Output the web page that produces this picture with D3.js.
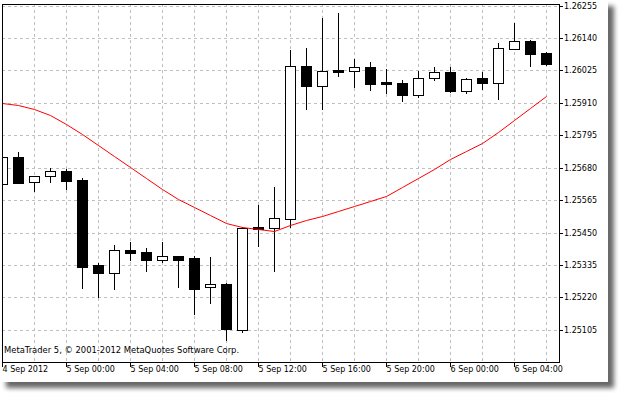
<!DOCTYPE html>
<html>
<head>
<meta charset="utf-8">
<script src="https://cdn.jsdelivr.net/npm/d3@7"></script>
<style>
  body { margin: 0; background: #fff; }
  text { font-family: "DejaVu Sans", sans-serif; font-size: 8px; fill: #000; }
</style>
</head>
<body>
<div id="chart"></div>
<script>
// hourly EURUSD-style bars, 4 Sep 20:00 .. 6 Sep 06:00
var times = [
  "2012-09-04 20:00", "2012-09-04 21:00", "2012-09-04 22:00", "2012-09-04 23:00",
  "2012-09-05 00:00", "2012-09-05 01:00", "2012-09-05 02:00", "2012-09-05 03:00",
  "2012-09-05 04:00", "2012-09-05 05:00", "2012-09-05 06:00", "2012-09-05 07:00",
  "2012-09-05 08:00", "2012-09-05 09:00", "2012-09-05 10:00", "2012-09-05 11:00",
  "2012-09-05 12:00", "2012-09-05 13:00", "2012-09-05 14:00", "2012-09-05 15:00",
  "2012-09-05 16:00", "2012-09-05 17:00", "2012-09-05 18:00", "2012-09-05 19:00",
  "2012-09-05 20:00", "2012-09-05 21:00", "2012-09-05 22:00", "2012-09-05 23:00",
  "2012-09-06 00:00", "2012-09-06 01:00", "2012-09-06 02:00", "2012-09-06 03:00",
  "2012-09-06 04:00", "2012-09-06 05:00", "2012-09-06 06:00"
];

var opens = [
  1.25621, 1.25718, 1.25628, 1.25650, 1.25667, 1.25636, 1.25334, 1.25307,
  1.25388, 1.25381, 1.25354, 1.25367, 1.25360, 1.25256, 1.25267, 1.25105,
  1.25468, 1.25467, 1.25499, 1.26041, 1.25969, 1.26026, 1.26022, 1.26037,
  1.25984, 1.25980, 1.25937, 1.25997, 1.26020, 1.25951, 1.25998, 1.25980,
  1.26102, 1.26129, 1.26088
];
var highs = [
  1.25717, 1.25739, 1.25654, 1.25681, 1.25678, 1.25646, 1.25345, 1.25409,
  1.25420, 1.25399, 1.25420, 1.25367, 1.25370, 1.25367, 1.25273, 1.25472,
  1.25551, 1.25615, 1.26101, 1.26108, 1.26215, 1.26233, 1.26070, 1.26059,
  1.26035, 1.25995, 1.26027, 1.26042, 1.26040, 1.26002, 1.26022, 1.26126,
  1.26198, 1.26137, 1.26094
];
var lows = [
  1.25621, 1.25627, 1.25598, 1.25630, 1.25604, 1.25254, 1.25221, 1.25251,
  1.25354, 1.25314, 1.25346, 1.25257, 1.25161, 1.25201, 1.25068, 1.25098,
  1.25402, 1.25313, 1.25471, 1.25887, 1.25887, 1.26007, 1.25968, 1.25957,
  1.25946, 1.25918, 1.25930, 1.25990, 1.25950, 1.25944, 1.25960, 1.25925,
  1.26102, 1.26042, 1.26043
];
var closes = [
  1.25717, 1.25627, 1.25650, 1.25667, 1.25634, 1.25329, 1.25307, 1.25388,
  1.25378, 1.25354, 1.25366, 1.25354, 1.25251, 1.25266, 1.25109, 1.25466,
  1.25462, 1.25500, 1.26040, 1.25971, 1.26022, 1.26021, 1.26036, 1.25978,
  1.25978, 1.25939, 1.25998, 1.26019, 1.25953, 1.25994, 1.25980, 1.26104,
  1.26129, 1.26085, 1.26049
];
// moving average (red)
var maValues = [
  1.25911, 1.25903, 1.25888, 1.25867, 1.25835, 1.25801, 1.25762, 1.25723,
  1.25682, 1.25642, 1.25604, 1.25569, 1.25540, 1.25512, 1.25484, 1.25469,
  1.25464, 1.25455, 1.25475, 1.25494, 1.25509, 1.25526, 1.25544, 1.25562,
  1.25580, 1.25610, 1.25642, 1.25677, 1.25710, 1.25739, 1.25769, 1.25807,
  1.25849, 1.25892, 1.25935
];

var yTicks = [1.26255, 1.26140, 1.26025, 1.25910, 1.25795, 1.25680,
              1.25565, 1.25450, 1.25335, 1.25220, 1.25105];
var xTickTimes = ["2012-09-04 20:00", "2012-09-05 00:00", "2012-09-05 04:00",
                  "2012-09-05 08:00", "2012-09-05 12:00", "2012-09-05 16:00",
                  "2012-09-05 20:00", "2012-09-06 00:00", "2012-09-06 04:00"];
var xTickLabels = ["4 Sep 2012", "5 Sep 00:00", "5 Sep 04:00", "5 Sep 08:00",
                   "5 Sep 12:00", "5 Sep 16:00", "5 Sep 20:00", "6 Sep 00:00",
                   "6 Sep 04:00"];
var copyright = "MetaTrader 5, \u00a9 2001-2012 MetaQuotes Software Corp.";

var svgWidth = 623;
var svgHeight = 393;

var plot = { left: 2, top: 4, right: 559, bottom: 362 };

var parseTime = d3.timeParse("%Y-%m-%d %H:%M");

var bars = times.map(function(t, i) {
  return {
    time: parseTime(t),
    open: opens[i],
    high: highs[i],
    low: lows[i],
    close: closes[i],
    ma: maValues[i]
  };
});

var svg = d3.select("#chart")
  .append("svg")
  .attr("width", svgWidth)
  .attr("height", svgHeight);

var defs = svg.append("defs");

var shadow = defs.append("filter")
  .attr("id", "shadow")
  .attr("x", "-5%")
  .attr("y", "-5%")
  .attr("width", "110%")
  .attr("height", "110%");
shadow.append("feGaussianBlur")
  .attr("in", "SourceAlpha")
  .attr("stdDeviation", 2.5)
  .attr("result", "blur");
shadow.append("feOffset")
  .attr("in", "blur")
  .attr("dx", 6)
  .attr("dy", 6)
  .attr("result", "off");
shadow.append("feComponentTransfer")
  .attr("in", "off")
  .attr("result", "soft")
  .append("feFuncA")
  .attr("type", "linear")
  .attr("slope", 0.6);
var merge = shadow.append("feMerge");
merge.append("feMergeNode").attr("in", "soft");
merge.append("feMergeNode").attr("in", "SourceGraphic");

defs.append("clipPath")
  .attr("id", "plotClip")
  .append("rect")
  .attr("x", plot.left + 1)
  .attr("y", plot.top + 1)
  .attr("width", plot.right - plot.left - 1)
  .attr("height", plot.bottom - plot.top - 1);

// white chart window with drop shadow
svg.append("rect")
  .attr("x", 0)
  .attr("y", 0)
  .attr("width", 608)
  .attr("height", 382)
  .attr("fill", "#fff")
  .attr("filter", "url(#shadow)");

var xScale = d3.scaleTime()
  .domain([bars[0].time, bars[bars.length - 1].time])
  .range([2, 546])
  .interpolate(d3.interpolateRound);

var yScale = d3.scaleLinear()
  .domain([1.25105, 1.26255])
  .range([329.7, 5.7])
  .interpolate(d3.interpolateRound);

// grid
var gridGroup = svg.append("g")
  .attr("stroke", "#c0c0c0")
  .attr("stroke-dasharray", "3,3")
  .attr("shape-rendering", "crispEdges");

gridGroup.selectAll(".hgrid")
  .data(yTicks)
  .enter()
  .append("line")
  .attr("x1", plot.left)
  .attr("x2", plot.right)
  .attr("y1", d => yScale(d) + 0.5)
  .attr("y2", d => yScale(d) + 0.5);

var gridTimes = bars.filter(d => d.time.getHours() % 2 === 0 && xScale(d.time) > plot.left);

gridGroup.selectAll(".vgrid")
  .data(gridTimes)
  .enter()
  .append("line")
  .attr("x1", d => xScale(d.time) + 0.5)
  .attr("x2", d => xScale(d.time) + 0.5)
  .attr("y1", plot.top)
  .attr("y2", plot.bottom);

// candles
var candleGroup = svg.append("g")
  .attr("clip-path", "url(#plotClip)")
  .attr("shape-rendering", "crispEdges");

var candles = candleGroup.selectAll("g")
  .data(bars)
  .enter()
  .append("g");

candles.append("line")
  .attr("x1", d => xScale(d.time) + 0.5)
  .attr("x2", d => xScale(d.time) + 0.5)
  .attr("y1", d => yScale(d.high) + 0.5)
  .attr("y2", d => yScale(d.low) + 0.5)
  .attr("stroke", "#000");

candles.append("rect")
  .attr("x", d => xScale(d.time) - 4.5)
  .attr("y", d => yScale(Math.max(d.open, d.close)) + 0.5)
  .attr("width", 10)
  .attr("height", d => Math.max(1, yScale(Math.min(d.open, d.close)) - yScale(Math.max(d.open, d.close))))
  .attr("fill", d => d.close > d.open ? "#fff" : "#000")
  .attr("stroke", "#000");

// moving average
var maLine = d3.line()
  .x(d => xScale(d.time) + 0.5)
  .y(d => yScale(d.ma) + 0.5);

svg.append("path")
  .datum(bars)
  .attr("clip-path", "url(#plotClip)")
  .attr("d", maLine)
  .attr("fill", "none")
  .attr("stroke", "#ff0000")
  .attr("stroke-width", 1);

// plot frame
svg.append("rect")
  .attr("x", plot.left + 0.5)
  .attr("y", plot.top + 0.5)
  .attr("width", plot.right - plot.left)
  .attr("height", plot.bottom - plot.top)
  .attr("fill", "none")
  .attr("stroke", "#000")
  .attr("shape-rendering", "crispEdges");

// right price axis
var rightAxis = d3.axisRight(yScale)
  .tickValues(yTicks)
  .tickSize(4)
  .tickPadding(1)
  .tickFormat(d3.format(".5f"));

var yAxis = svg.append("g")
  .attr("transform", `translate(${plot.right}, 0)`)
  .call(rightAxis);
yAxis.select(".domain").remove();
yAxis.selectAll("line").attr("stroke", "#000").attr("shape-rendering", "crispEdges");
yAxis.selectAll("text")
  .attr("x", 5)
  .attr("dy", "0.36em")
  .attr("font-family", null)
  .attr("font-size", null)
  .style("fill", "#000");
yAxis.attr("font-family", null).attr("font-size", null);

// bottom time axis
var bottomAxis = d3.axisBottom(xScale)
  .tickValues(xTickTimes.map(parseTime))
  .tickSize(5)
  .tickFormat((d, i) => xTickLabels[i]);

var xAxis = svg.append("g")
  .attr("transform", `translate(0, ${plot.bottom})`)
  .call(bottomAxis);
xAxis.select(".domain").remove();
xAxis.selectAll("line").attr("stroke", "#000").attr("shape-rendering", "crispEdges");
xAxis.selectAll("text")
  .attr("x", 0)
  .attr("y", 4)
  .attr("dy", "0.71em")
  .attr("text-anchor", "start")
  .style("fill", "#000");
xAxis.attr("font-family", null).attr("font-size", null);

svg.append("text")
  .attr("x", 4)
  .attr("y", 353)
  .style("font-size", "8.4px")
  .text(copyright);
</script>
</body>
</html>
